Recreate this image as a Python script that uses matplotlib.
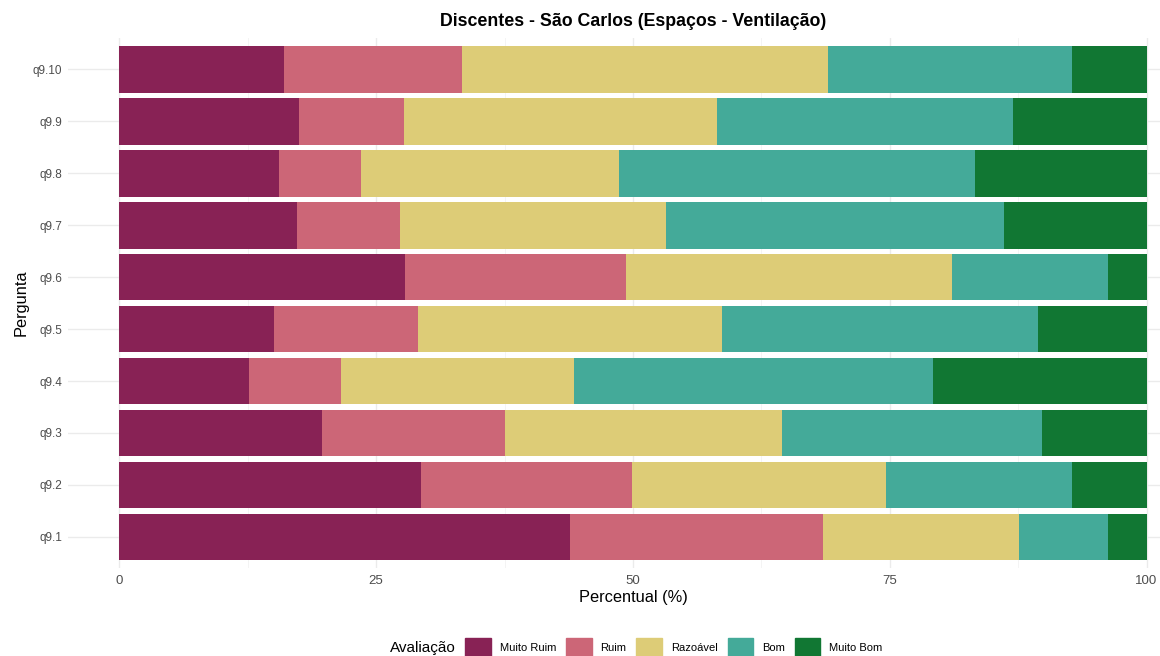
import matplotlib.pyplot as plt
import matplotlib.patches as mpatches
import numpy as np

plt.rcParams['font.family'] = ['Liberation Sans', 'DejaVu Sans']

perguntas = ['q9.1', 'q9.2', 'q9.3', 'q9.4', 'q9.5', 'q9.6', 'q9.7', 'q9.8', 'q9.9', 'q9.10']
categorias = ['Muito Ruim', 'Ruim', 'Razoável', 'Bom', 'Muito Bom']
cores = ['#882255', '#CC6677', '#DDCC77', '#44AA99', '#117733']

# percentuais por pergunta (q9.1 ... q9.10)
muito_ruim = [43.9, 29.4, 19.7, 12.6, 15.1, 27.8, 17.3, 15.5, 17.5, 16.0]
ruim = [24.6, 20.5, 17.8, 9.0, 14.0, 21.5, 10.0, 8.0, 10.2, 17.4]
razoavel = [19.1, 24.7, 27.0, 22.7, 29.6, 31.8, 25.9, 25.1, 30.5, 35.6]
bom = [8.6, 18.1, 25.3, 34.9, 30.7, 15.1, 32.9, 34.7, 28.8, 23.7]
muito_bom = [3.8, 7.3, 10.2, 20.8, 10.6, 3.8, 13.9, 16.7, 13.0, 7.3]

series = [muito_ruim, ruim, razoavel, bom, muito_bom]

fig = plt.figure(figsize=(11.6, 6.56), dpi=100)
# painel ultrapassa a borda direita (imagem original recortada)
ax = fig.add_axes([0.0586, 0.134, 0.9741, 0.808])

y = np.arange(1, len(perguntas) + 1)
left = np.zeros(len(perguntas))
for vals, cor, nome in zip(series, cores, categorias):
    vals = np.array(vals)
    ax.barh(y, vals, left=left, height=0.9, color=cor, label=nome, zorder=2)
    left += vals

ax.set_xlim(-5, 105)
ax.set_ylim(0.4, 10.6)
ax.set_yticks(y)
ax.set_yticklabels(perguntas)
ax.set_xticks([0, 25, 50, 75, 100])
ax.set_xticks([12.5, 37.5, 62.5, 87.5], minor=True)

ax.grid(which='major', color='#EBEBEB', linewidth=1.0, zorder=0)
ax.grid(which='minor', axis='x', color='#F2F2F2', linewidth=0.6, zorder=0)
ax.tick_params(which='both', length=0)
ax.tick_params(axis='y', labelsize=8.5, labelcolor='#4D4D4D', pad=4)
ax.tick_params(axis='x', labelsize=9.5, labelcolor='#4D4D4D', pad=5)
for s in ax.spines.values():
    s.set_visible(False)

ax.set_xlabel('Percentual (%)', fontsize=11.8, labelpad=2)
ax.set_ylabel('Pergunta', fontsize=11.8, labelpad=3)
ax.set_title('Discentes - São Carlos (Espaços - Ventilação)', fontsize=12.8,
             fontweight='bold', pad=9)

handles = [mpatches.Patch(color=c, label=n) for c, n in zip(cores, categorias)]
fig.text(0.336, 0.0122, 'Avaliação', fontsize=11, va='center', ha='left')
fig.legend(handles=handles, loc='center left', bbox_to_anchor=(0.401, 0.0122),
           ncol=5, frameon=False, fontsize=8, handlelength=2.3, handleheight=2.3,
           handletextpad=0.8, columnspacing=0.9, borderaxespad=0, borderpad=0)

plt.savefig('out.png', dpi=100)
